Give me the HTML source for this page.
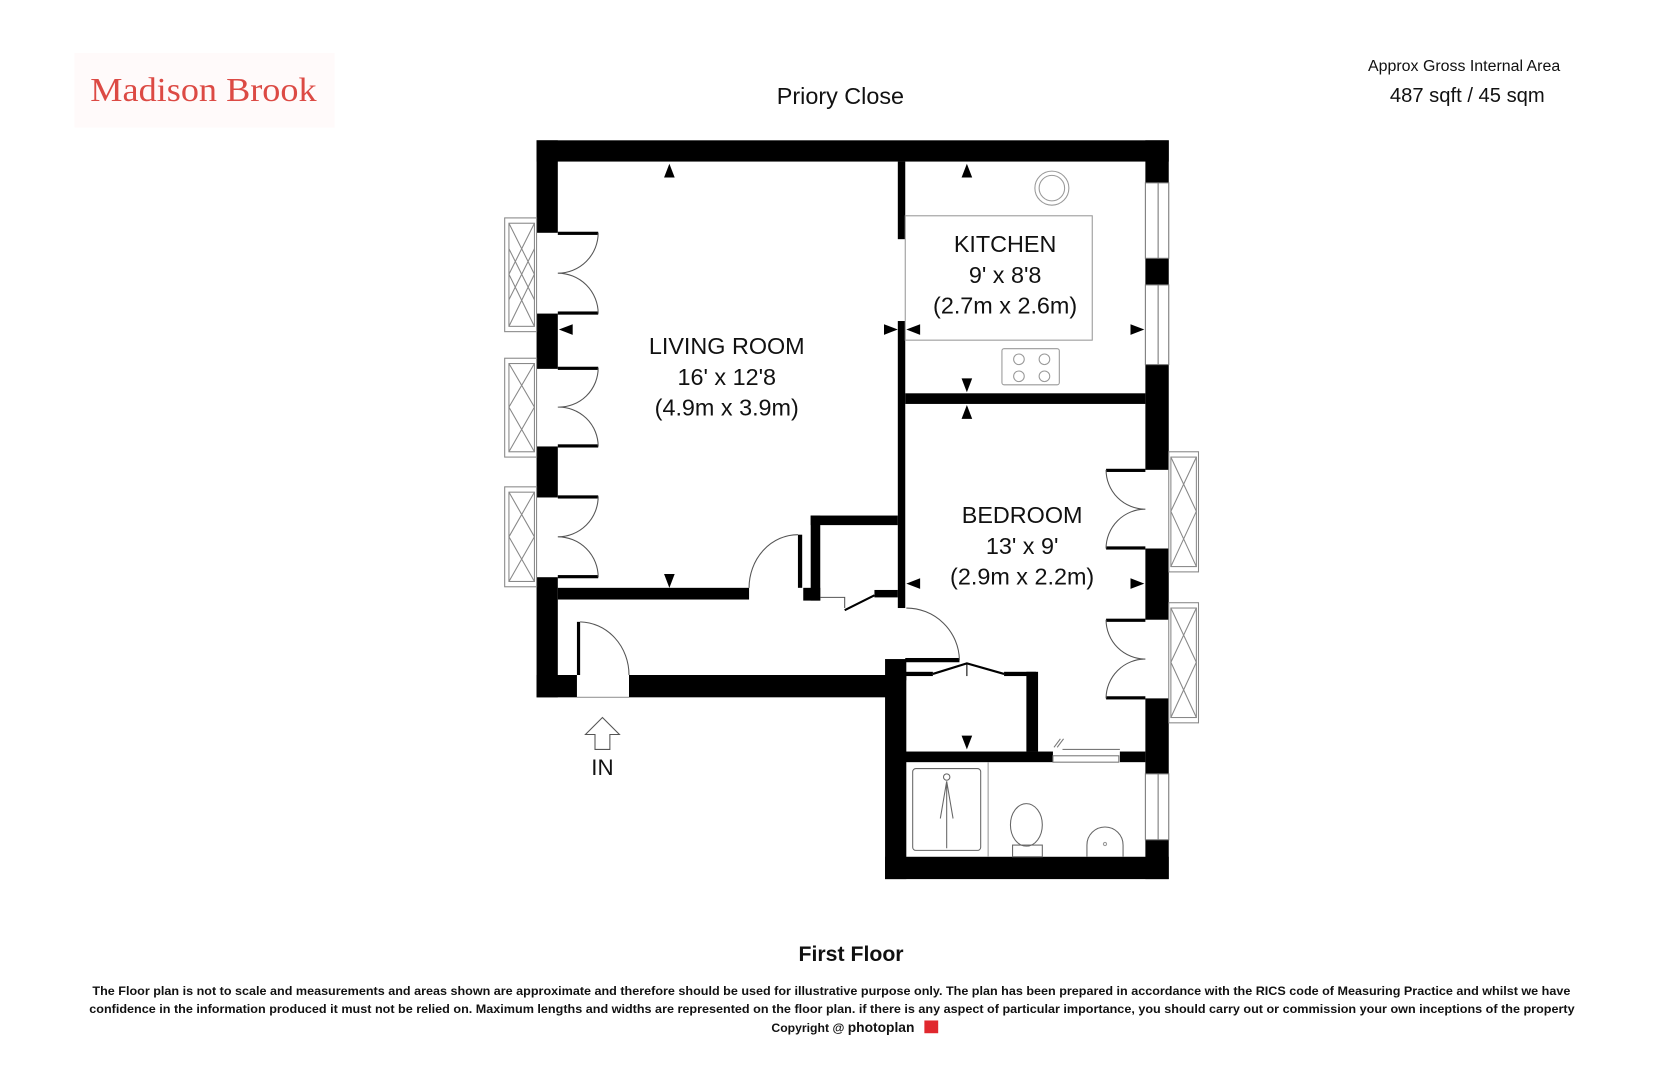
<!DOCTYPE html>
<html><head><meta charset="utf-8"><style>
html,body{margin:0;padding:0;background:#fff;}
svg{display:block;}
</style></head><body>
<svg width="1666" height="1080" viewBox="0 0 1568 1016" preserveAspectRatio="none" xmlns="http://www.w3.org/2000/svg" font-family="Liberation Sans, sans-serif">
<rect x="0" y="0" width="1568" height="1016" fill="#fff"/>
<rect x="70" y="50" width="245" height="70" fill="#fffafa"/>
<text x="85" y="95" font-family="Liberation Serif, serif" font-size="32" fill="#dc4a44" textLength="213" lengthAdjust="spacingAndGlyphs">Madison Brook</text>
<text x="791" y="98" font-size="22" text-anchor="middle" fill="#111">Priory Close</text>
<text x="1378" y="67" font-size="15" text-anchor="middle" fill="#111">Approx Gross Internal Area</text>
<text x="1381" y="96" font-size="19" text-anchor="middle" fill="#111">487 sqft / 45 sqm</text>

<g fill="#000">
<!-- outer walls -->
<rect x="505" y="132" width="595" height="20"/>
<rect x="505" y="132" width="20" height="87"/>
<rect x="505" y="295" width="20" height="52"/>
<rect x="505" y="420" width="20" height="48"/>
<rect x="505" y="543" width="20" height="113"/>
<rect x="505" y="635" width="38" height="21"/>
<rect x="592" y="635" width="260" height="21"/>
<rect x="1078" y="132" width="22" height="40"/>
<rect x="1078" y="243" width="22" height="25"/>
<rect x="1078" y="343" width="22" height="99"/>
<rect x="1078" y="516" width="22" height="67"/>
<rect x="1078" y="657" width="22" height="71"/>
<rect x="1078" y="790" width="22" height="37"/>
<rect x="833" y="635" width="20" height="192"/>
<rect x="833" y="806" width="267" height="21"/>
<!-- interior -->
<rect x="845" y="152" width="7" height="73"/>
<rect x="845" y="302" width="7" height="270"/>
<rect x="852" y="370" width="226" height="10"/>
<rect x="525" y="553" width="180" height="11"/>
<rect x="763" y="485" width="82" height="9"/>
<rect x="763" y="485" width="9" height="80"/>
<rect x="756" y="553" width="16" height="12"/>
<rect x="823" y="555" width="22" height="7"/>
<rect x="751" y="503" width="4" height="50"/>
<rect x="543" y="585" width="3" height="50"/>
<rect x="833" y="620" width="20" height="20"/>
<rect x="852" y="619" width="51" height="4"/>
<rect x="852" y="632" width="26" height="4"/>
<rect x="945" y="632" width="30" height="4"/>
<rect x="966" y="632" width="11" height="75"/>
<rect x="852" y="707" width="139" height="10"/>
<rect x="1054" y="707" width="24" height="10"/>
<!-- door leaves -->
<rect x="525" y="218" width="38" height="3"/>
<rect x="525" y="293" width="38" height="3"/>
<rect x="525" y="345" width="38" height="3"/>
<rect x="525" y="418" width="38" height="3"/>
<rect x="525" y="466" width="38" height="3"/>
<rect x="525" y="541" width="38" height="3"/>
<rect x="1041" y="441" width="37" height="3"/>
<rect x="1041" y="514" width="37" height="3"/>
<rect x="1041" y="582" width="37" height="3"/>
<rect x="1041" y="655" width="37" height="3"/>
</g>
<g fill="none" stroke="#555" stroke-width="1">
<path d="M563 219 A38 38 0 0 1 525 257 M525 257 A38 38 0 0 1 563 295"/>
<path d="M563 346 A37 37 0 0 1 525 383 M525 383 A37 37 0 0 1 563 420"/>
<path d="M563 467 A38 38 0 0 1 525 505 M525 505 A38 38 0 0 1 563 543"/>
<path d="M1041 442 A37 37 0 0 0 1078 479 M1078 479 A37 37 0 0 0 1041 516"/>
<path d="M1041 583 A37 37 0 0 0 1078 620 M1078 620 A37 37 0 0 0 1041 657"/>
<path d="M546 585 A47 50 0 0 1 592 635"/>
<path d="M853 572 A50 50 0 0 1 903 621"/>
<path d="M751 503 A46 50 0 0 0 705 553"/>
<path d="M772 562 L795 562 L795 572"/>
<line x1="543" y1="656" x2="592" y2="656" stroke="#999"/>
</g>
<g stroke="#000" stroke-width="2" fill="none">
<path d="M795 574 L823 560"/>
<path d="M878 634 L910 624 L945 634"/>
<path d="M910 624 L910 636" stroke-width="1"/>
</g>
<!-- sliding door bathroom -->
<g stroke="#777" fill="none" stroke-width="1">
<rect x="991" y="711" width="62" height="6"/>
<line x1="1000" y1="705" x2="1054" y2="705"/>
<line x1="992" y1="703" x2="998" y2="695"/><line x1="995" y1="703" x2="1001" y2="695"/>
</g>
<!-- windows -->
<g fill="#fff" stroke="#777" stroke-width="1">
<rect x="1078" y="172" width="22" height="71"/><line x1="1090" y1="172" x2="1090" y2="243"/>
<rect x="1078" y="268" width="22" height="75"/><line x1="1090" y1="268" x2="1090" y2="343"/>
<rect x="1078" y="728" width="22" height="62"/><line x1="1090" y1="728" x2="1090" y2="790"/>
</g>
<g fill="none" stroke="#888" stroke-width="1">
<rect x="475" y="205" width="30" height="107"/><rect x="479" y="210" width="24" height="97"/>
<path d="M479 210 L503 258 L479 307 M503 210 L479 258 L503 307 M479 234 L491 258 L479 282 M503 234 L491 258 L503 282"/>
<rect x="475" y="337" width="30" height="93"/><rect x="479" y="342" width="24" height="83"/>
<path d="M479 342 L503 383 L479 425 M503 342 L479 383 L503 425"/>
<rect x="475" y="458" width="30" height="94"/><rect x="479" y="463" width="24" height="84"/>
<path d="M479 463 L503 505 L479 547 M503 463 L479 505 L503 547"/>
<rect x="1100" y="425" width="28" height="113"/><rect x="1102" y="430" width="24" height="103"/>
<path d="M1102 430 L1126 481 L1102 533 M1126 430 L1102 481 L1126 533"/>
<rect x="1100" y="567" width="28" height="113"/><rect x="1102" y="572" width="24" height="103"/>
<path d="M1102 572 L1126 623 L1102 675 M1126 572 L1102 623 L1126 675"/>
</g>
<!-- kitchen fixtures -->
<g fill="none" stroke="#999" stroke-width="1">
<rect x="852" y="203" width="176" height="117"/>
<circle cx="990" cy="177" r="16"/><circle cx="990" cy="177" r="12"/>
<rect x="943" y="328" width="54" height="34" rx="2"/>
<circle cx="959" cy="338" r="5"/><circle cx="983" cy="338" r="5"/>
<circle cx="959" cy="354" r="5"/><circle cx="983" cy="354" r="5"/>
<!-- bathroom -->
<line x1="930" y1="717" x2="930" y2="806"/>
<rect x="859" y="723" width="64" height="77" rx="3" stroke="#666"/>
<circle cx="891" cy="731" r="3" stroke="#666"/>
<path d="M891 735 L885 770 M891 735 L897 770 M891 735 L891 798" stroke="#666"/>
<ellipse cx="966" cy="776" rx="15" ry="20" stroke="#666"/>
<rect x="953" y="795" width="28" height="11" stroke="#666"/>
<path d="M1023 806 L1023 795 A17 17 0 0 1 1057 795 L1057 806" stroke="#666"/>
<circle cx="1040" cy="794" r="1.5"/>
</g>
<!-- arrows -->
<g fill="#000">
<path d="M630 154 L625 167 L635 167Z"/>
<path d="M630 553 L625 540 L635 540Z"/>
<path d="M526 310 L539 305 L539 315Z"/>
<path d="M845 310 L832 305 L832 315Z"/>
<path d="M853 310 L866 305 L866 315Z"/>
<path d="M1077 310 L1064 305 L1064 315Z"/>
<path d="M910 154 L905 167 L910 167 L915 167Z"/>
<path d="M910 369 L905 356 L915 356Z"/>
<path d="M910 381 L905 394 L915 394Z"/>
<path d="M853 549 L866 544 L866 554Z"/>
<path d="M1077 549 L1064 544 L1064 554Z"/>
<path d="M910 705 L905 692 L915 692Z"/>
</g>
<!-- entry arrow -->
<path d="M567 675 L551 691 L560 691 L560 705 L574 705 L574 691 L583 691Z" fill="none" stroke="#555"/>
<text x="567" y="729" font-size="21" text-anchor="middle" fill="#111">IN</text>
<!-- labels -->
<g font-size="22" text-anchor="middle" fill="#111">
<text x="684" y="333">LIVING ROOM</text>
<text x="684" y="362">16' x 12'8</text>
<text x="684" y="391">(4.9m x 3.9m)</text>
<text x="946" y="237">KITCHEN</text>
<text x="946" y="266">9' x 8'8</text>
<text x="946" y="295">(2.7m x 2.6m)</text>
<text x="962" y="492">BEDROOM</text>
<text x="962" y="521">13' x 9'</text>
<text x="962" y="550">(2.9m x 2.2m)</text>
</g>
<text x="801" y="904" font-size="20" font-weight="bold" text-anchor="middle" fill="#111">First Floor</text>
<g font-size="11.5" font-weight="bold" fill="#111">
<text x="87" y="936" textLength="1391" lengthAdjust="spacingAndGlyphs">The Floor plan is not to scale and measurements and areas shown are approximate and therefore should be used for illustrative purpose only. The plan has been prepared in accordance with the RICS code of Measuring Practice and whilst we have</text>
<text x="84" y="953" textLength="1398" lengthAdjust="spacingAndGlyphs">confidence in the information produced it must not be relied on. Maximum  lengths and widths are represented on the floor plan. if there is any aspect of particular importance, you should carry out or commission your own inceptions of the property</text>
<text x="726" y="971">Copyright @ <tspan font-size="13">photoplan</tspan></text>
</g>
<rect x="870" y="960" width="13" height="12" fill="#e0282e"/>
</svg>
</body></html>
